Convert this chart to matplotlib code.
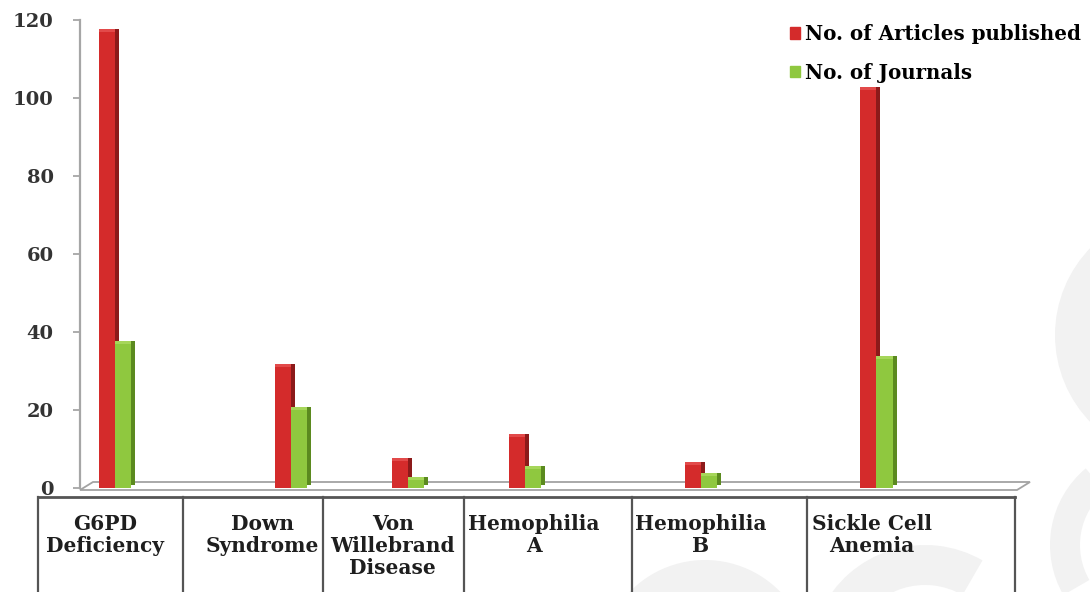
import matplotlib
matplotlib.use("Agg")
import matplotlib.pyplot as plt
from matplotlib import transforms
from matplotlib.patches import Polygon, Wedge, Rectangle
from matplotlib.lines import Line2D

categories = ["G6PD\nDeficiency", "Down\nSyndrome", "Von\nWillebrand\nDisease",
              "Hemophilia\nA", "Hemophilia\nB", "Sickle Cell\nAnemia"]
articles = [117, 31, 7, 13, 6, 102]
journals = [37, 20, 2, 5, 3, 33]
series_names = ["No. of Articles published", "No. of Journals"]
y_ticks = [0, 20, 40, 60, 80, 100, 120]

# layout (x in data units, one slot per unit)
group_pos = [0, 3, 5, 7, 10, 13]
label_pos = [-0.17, 2.51, 4.74, 7.15, 10.0, 12.92]
cell_edges = [-1.32, 1.16, 3.55, 5.96, 8.83, 11.81, 15.37]
bar_w = 0.275

red, red_side, red_top = "#d42b2b", "#8c1a1a", "#e24a4a"
green, green_side, green_top = "#8fc83f", "#5b8a1f", "#a6d65a"

plt.rcParams["font.family"] = "DejaVu Serif"
plt.rcParams["font.weight"] = "bold"

W, H = 1090, 592
fig = plt.figure(figsize=(W / 100, H / 100), dpi=100)
fig.patch.set_facecolor("white")

# pixel transform, origin at top-left
px = transforms.Affine2D().scale(1, -1).translate(0, H).scale(0.01) + fig.dpi_scale_trans

# faint watermark swirls behind everything
for c, r, t1, t2, w in [((1180, 335), 125, 135, 225, 38),
                        ((1150, 545), 100, 150, 230, 30),
                        ((705, 665), 105, 215, 325, 36),
                        ((925, 660), 115, 205, 300, 40)]:
    fig.patches.append(Wedge(c, r, t1, t2, width=w, transform=px,
                             facecolor="#f2f2f2", edgecolor="none", zorder=-5))

ax = fig.add_axes([80 / W, 1 - 488 / H, (1017 - 80) / W, (488 - 20) / H])
ax.patch.set_visible(False)
ax.set_xlim(-0.6, 15.4)
ax.set_ylim(0, 120)

# 3D floor
ax.add_patch(Polygon([(80, 490), (1017, 490), (1030, 482), (93, 482)], closed=True,
                     transform=px, facecolor="white", edgecolor="#a3a3a3",
                     lw=1.3, clip_on=False, zorder=1))

back = transforms.offset_copy(ax.transData, fig=fig, x=4, y=3, units="dots")
up = transforms.offset_copy(ax.transData, fig=fig, x=0, y=3, units="dots")

xr = [p - bar_w / 2 for p in group_pos]
xg = [p + bar_w / 2 for p in group_pos]
z = 2
for xs, vals, face, side, top in [(xr, articles, red, red_side, red_top),
                                  (xg, journals, green, green_side, green_top)]:
    ax.bar(xs, vals, bar_w, color=side, transform=back, zorder=z)
    ax.bar(xs, vals, bar_w, color=top, transform=up, zorder=z + 0.5)
    ax.bar(xs, vals, bar_w, color=face, zorder=z + 1)
    z += 2

# axis styling
for s in ["top", "right", "bottom"]:
    ax.spines[s].set_visible(False)
ax.spines["left"].set_color("#a6a6a6")
ax.spines["left"].set_linewidth(1.6)
ax.set_xticks([])
ax.set_yticks(y_ticks)
ax.tick_params(axis="y", length=5, width=1.3, color="#a6a6a6", pad=14,
               labelsize=14, labelcolor="#333333")

# category table under the floor
btf = transforms.blended_transform_factory(ax.transData, fig.transFigure)
top_y = 1 - 497 / H
ax.add_line(Line2D([cell_edges[0], cell_edges[-1]], [top_y, top_y], transform=btf,
                   color="#555555", lw=2, clip_on=False))
for e in cell_edges:
    ax.add_line(Line2D([e, e], [top_y, 0], transform=btf, color="#555555",
                       lw=1.6, clip_on=False))
for lp, cat in zip(label_pos, categories):
    ax.text(lp, 1 - 514 / H, cat, transform=btf, ha="center", va="top",
            fontsize=14.5, linespacing=1.12, color="#1e1e1e")

handles = [Rectangle((0, 0), 1, 1, color=red), Rectangle((0, 0), 1, 1, color=green)]
fig.legend(handles, series_names, loc="upper left", bbox_to_anchor=(790 / W, 1 - 24 / H),
           frameon=False, prop=dict(family="DejaVu Serif", weight="bold", size=14.3),
           handlelength=0.5, handleheight=0.5, handletextpad=0.25,
           labelspacing=0.95, borderpad=0, borderaxespad=0)

fig.savefig("out.png", dpi=100)
